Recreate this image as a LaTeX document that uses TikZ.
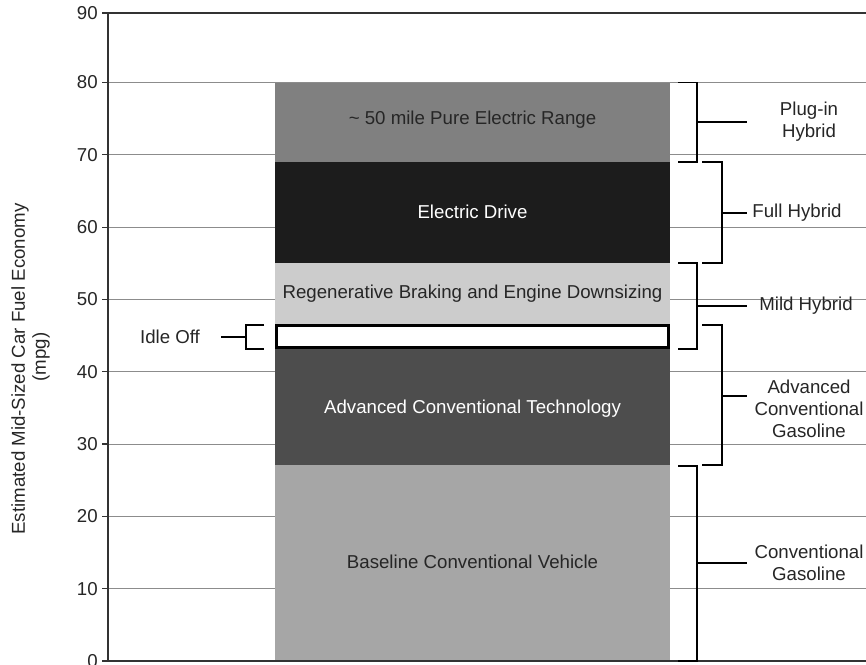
\documentclass[tikz,border=0pt]{standalone}
\usepackage{fontspec}
\setmainfont{Liberation Sans}
\definecolor{txt}{HTML}{262626}
\definecolor{gridc}{HTML}{8C8C8C}
\definecolor{axisc}{HTML}{333333}
\definecolor{plugc}{HTML}{808080}
\definecolor{edrive}{HTML}{1C1C1C}
\definecolor{regen}{HTML}{CCCCCC}
\definecolor{advc}{HTML}{4D4D4D}
\definecolor{basec}{HTML}{A6A6A6}
\begin{document}
\begin{tikzpicture}[x=0.75pt,y=-0.75pt,
  lbl/.style={font=\fontsize{14}{16.5}\selectfont, text=txt, align=center, inner sep=0pt},
  wlbl/.style={lbl, text=white},
  tick/.style={lbl, anchor=east},
  gridline/.style={draw=gridc, line width=0.75pt},
  axisline/.style={draw=axisc, line width=1.6pt},
  brk/.style={draw=black, line width=0.9pt},
]
\useasboundingbox (0,0) rectangle (866,664);

% horizontal grid lines
\foreach \yy in {82.5,154.8,227.1,299.4,371.7,444,516.3,588.6}
  \draw[gridline] (108,\yy) -- (866,\yy);

% stacked bar segments
\fill[plugc]  (275,82.5) rectangle (670,162);
\fill[edrive] (275,162)  rectangle (670,263);
\fill[regen]  (275,263)  rectangle (670,325);
\fill[advc]   (275,348)  rectangle (670,465);
\fill[basec]  (275,465)  rectangle (670,661);
\draw[black, line width=1.6pt, fill=white] (276.5,325.5) rectangle (668.5,347.5);

\node[lbl]  (plugtxt)  at (472.5,120) {\char`\~{} 50 mile Pure Electric Range};
\node[wlbl] (edtxt)    at (472.5,212) {Electric Drive};
\node[lbl]  (regentxt) at (472.5,294) {Regenerative Braking and Engine Downsizing};
\node[wlbl] (advtxt)   at (472.5,409) {Advanced Conventional Technology};
\node[lbl]  (basetxt)  at (472.5,562) {Baseline Conventional Vehicle};

% axes
\draw[axisline] (108,13) -- (108,661);
\draw[axisline] (108,13) -- (866,13);
\draw[axisline] (108,661) -- (866,661);
\foreach \yy/\v in {13/90,82.5/80,154.8/70,227.1/60,299.4/50,371.7/40,444/30,516.3/20,588.6/10,661/0}{
  \draw[axisc, line width=0.8pt] (102,\yy) -- (108,\yy);
  \node[tick] (t\v) at (98,\yy) {\v};
}

% axis title
\node[lbl, rotate=90] (ytitle) at (20,369) {Estimated Mid-Sized Car Fuel Economy};
\node[lbl, rotate=90] (yunit)  at (41,357) {(mpg)};

% brackets grouping the segments
\coordinate (pA) at (697,122);   \coordinate (pB) at (747,122);
\coordinate (fA) at (722,213);   \coordinate (fB) at (747,213);
\coordinate (mA) at (697,306);   \coordinate (mB) at (747,306);
\coordinate (aA) at (722,396);   \coordinate (aB) at (747,396);
\coordinate (cA) at (697,563);   \coordinate (cB) at (747,563);
\coordinate (iA) at (246,337);   \coordinate (iB) at (221,337);

\draw[brk] (678,82.5) -- (697,82.5) -- (697,162) -- (678,162);
\draw[brk] (pA) -- (pB);
\draw[brk] (702,162) -- (722,162) -- (722,263) -- (702,263);
\draw[brk] (fA) -- (fB);
\draw[brk] (678,263) -- (697,263) -- (697,349) -- (678,349);
\draw[brk] (mA) -- (mB);
\draw[brk] (702,325) -- (722,325) -- (722,465) -- (702,465);
\draw[brk] (aA) -- (aB);
\draw[brk] (678,466) -- (697,466) -- (697,661) -- (678,661);
\draw[brk] (cA) -- (cB);
\draw[brk] (264,325) -- (246,325) -- (246,349) -- (264,349);
\draw[brk] (iA) -- (iB);

\node[lbl] (plugin) at (809,122) {Plug-in\\Hybrid};
\node[lbl] (full)   at (797,213) {Full Hybrid};
\node[lbl] (mild)   at (806,306) {Mild Hybrid};
\node[lbl] (advg)   at (809,409) {Advanced\\Conventional\\Gasoline};
\node[lbl] (convg)  at (809,563) {Conventional\\Gasoline};
\node[lbl] (idle)   at (170,337) {Idle Off};
\end{tikzpicture}
\end{document}
